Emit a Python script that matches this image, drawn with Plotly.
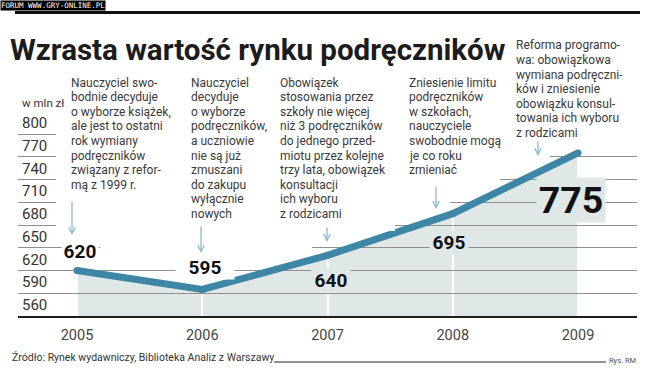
import plotly.graph_objects as go

# ---------------- data ----------------
years = [2005, 2006, 2007, 2008, 2009]
values = [620, 595, 640, 695, 775]
value_labels = ["620", "595", "640", "695", "775"]
y_ticks = [560, 590, 620, 650, 680, 710, 740, 770, 800]
y_tick_labels = ["560", "590", "620", "650", "680", "710", "740", "770", "800"]
x_tick_labels = ["2005", "2006", "2007", "2008", "2009"]

title_text = "Wzrasta wartość rynku podręczników"
unit_text = "w mln zł"
source_text = "Źródło: Rynek wydawniczy, Biblioteka Analiz z Warszawy"
credit_text = "Rys. RM"
banner_text = "FORUM WWW.GRY-ONLINE.PL"

note_2005 = ["Nauczyciel swo-", "bodnie decyduje", "o wyborze książek,", "ale jest to ostatni",
             "rok wymiany", "podręczników", "związany z refor-", "mą z 1999 r."]
note_2006 = ["Nauczyciel", "decyduje", "o wyborze", "podręczników,", "a uczniowie",
             "nie są już", "zmuszani", "do zakupu", "wyłącznie", "nowych"]
note_2007 = ["Obowiązek", "stosowania przez", "szkoły nie więcej", "niż 3 podręczników",
             "do jednego przed-", "miotu przez kolejne", "trzy lata, obowiązek",
             "konsultacji", "ich wyboru", "z rodzicami"]
note_2008 = ["Zniesienie limitu", "podręczników", "w szkołach,", "nauczyciele",
             "swobodnie mogą", "je co roku", "zmieniać"]
note_2009 = ["Reforma programo-", "wa: obowiązkowa", "wymiana podręczni-", "ków i zniesienie",
             "obowiązku konsul-", "towania ich wyboru", "z rodzicami"]

# ---------------- geometry / style ----------------
W, H = 650, 386


def fx(p):
    return p / W


def fy(p):
    return 1 - p / H


X_LEFT, X_RIGHT = 18, 637
X_FIRST, X_LAST = 77, 578
ppy = (X_LAST - X_FIRST) / (years[-1] - years[0])
x_range = [years[0] - (X_FIRST - X_LEFT) / ppy, years[-1] + (X_RIGHT - X_LAST) / ppy]
Y_BASE, Y_TOP = 316, 40
k = 22.75 / 30.0
y_range = [560, 560 + (Y_BASE - Y_TOP) / k]
x_dom = [fx(X_LEFT), fx(X_RIGHT)]
y_dom = [fy(Y_BASE), fy(Y_TOP)]

FILL = "#dfe7e7"
LINE = "#3d86a5"
ARROW = "#8bbad0"
GRID = "#8f8f8f"
TEXT = "#3a3a3a"
SANS = "Roboto, Liberation Sans, sans-serif"

fig = go.Figure()
fig.add_trace(go.Scatter(x=years, y=values, mode="lines", fill="tozeroy", fillcolor=FILL,
                         line=dict(width=0, color=FILL), xaxis="x", yaxis="y",
                         hoverinfo="skip", showlegend=False))
fig.add_trace(go.Scatter(x=years, y=values, mode="lines+markers",
                         line=dict(width=7, color=LINE), marker=dict(size=7, color=LINE),
                         xaxis="x2", yaxis="y2", hoverinfo="skip", showlegend=False))

annotations = []
shapes = []

# masks that hide the grid behind the note blocks
masks = [(56, 70, 280, 243), (100, 243, 312, 253), (280, 70, 395, 231),
         (395, 70, 450, 210), (450, 70, 500, 185), (500, 70, 550, 161),
         (505, 30, 642, 146)]
for x0, y0, x1, y1 in masks:
    shapes.append(dict(type="rect", xref="paper", yref="paper", x0=fx(x0), x1=fx(x1),
                       y0=fy(y1), y1=fy(y0), fillcolor="white", line=dict(width=0),
                       layer="above"))

# top rule and source rule
shapes.append(dict(type="line", xref="paper", yref="paper", x0=fx(15), x1=fx(640),
                   y0=fy(12.5), y1=fy(12.5), line=dict(color="#111111", width=3)))
shapes.append(dict(type="line", xref="paper", yref="paper", x0=fx(274), x1=fx(606),
                   y0=fy(362), y1=fy(362), line=dict(color="#222222", width=1)))

# banner
annotations.append(dict(x=0, y=1, xref="paper", yref="paper", xanchor="left", yanchor="top",
                        text=banner_text, showarrow=False, bgcolor="#000000", borderpad=0,
                        font=dict(family="DejaVu Sans Mono", size=7.5, color="white")))
# title
annotations.append(dict(x=fx(8), y=fy(50), xref="paper", yref="paper", xanchor="left",
                        yanchor="middle", text=title_text, showarrow=False,
                        font=dict(family=SANS, size=29.5, color="#1c1c1c", weight="bold")))
# unit
annotations.append(dict(x=fx(20), y=fy(103), xref="paper", yref="paper", xanchor="left",
                        yanchor="middle", text=unit_text, showarrow=False,
                        font=dict(family=SANS, size=11.5, color="#333333")))
# y tick labels
for v, t in zip(y_ticks, y_tick_labels):
    annotations.append(dict(x=fx(20), y=v, xref="paper", yref="y2", xanchor="left",
                            yanchor="middle", yshift=11, text=t, showarrow=False,
                            font=dict(family=SANS, size=15, color="#333333")))

# note blocks
blocks = [(note_2005, 70, 82.5), (note_2006, 190, 82.5), (note_2007, 279, 82.5),
          (note_2008, 408, 82.5), (note_2009, 515, 45.5)]
for lines, left, top in blocks:
    for i, ln in enumerate(lines):
        annotations.append(dict(x=fx(left), y=fy(top + i * 14.6), xref="paper", yref="paper",
                                xanchor="left", yanchor="middle", text=ln, showarrow=False,
                                borderpad=0,
                                font=dict(family=SANS, size=12, color=TEXT)))

# arrows
arrows = [(72, 235, 35), (201, 253, 28), (327, 242, 16), (436, 209, 24), (538, 156, 16)]
for ax_x, tip_y, ln in arrows:
    annotations.append(dict(x=fx(ax_x), y=fy(tip_y), xref="paper", yref="paper", text="",
                            showarrow=True, ax=0, ay=-ln, arrowhead=5, arrowsize=1,
                            arrowwidth=1.3, arrowcolor=ARROW, standoff=0))

# value labels
shifts = [(3, 19), (3, 22), (3, -25), (-4, -29), (-7, -47)]
bgs = ["white", "white", FILL, FILL, FILL]
widths = [36, 58, 38, 38, 68]
for i, (yr, v, lab) in enumerate(zip(years, values, value_labels)):
    big = i == len(years) - 1
    annotations.append(dict(x=yr, y=v, xref="x2", yref="y2", xshift=shifts[i][0],
                            yshift=shifts[i][1], text=lab, showarrow=False,
                            bgcolor=bgs[i], width=widths[i], borderpad=0,
                            font=dict(family=SANS, size=37.5 if big else 19,
                                      color="#111111", weight="bold")))

# source
annotations.append(dict(x=fx(10), y=fy(357), xref="paper", yref="paper", xanchor="left",
                        yanchor="middle", text=source_text, showarrow=False,
                        font=dict(family=SANS, size=10.5, color="#333333")))
annotations.append(dict(x=fx(607), y=fy(360), xref="paper", yref="paper", xanchor="left",
                        yanchor="middle", text=credit_text, showarrow=False,
                        font=dict(family=SANS, size=7.5, color="#555555")))

fig.update_layout(
    width=W, height=H, margin=dict(l=0, r=0, t=0, b=0),
    paper_bgcolor="white", plot_bgcolor="rgba(0,0,0,0)", showlegend=False,
    xaxis=dict(domain=x_dom, range=x_range, anchor="y", visible=False),
    yaxis=dict(domain=y_dom, range=y_range, anchor="x", visible=False),
    xaxis2=dict(domain=x_dom, range=x_range, anchor="y2", tickmode="array", tickvals=years,
                ticktext=x_tick_labels, showgrid=True, gridcolor="white", gridwidth=2,
                showline=True, linecolor="#1e1e1e", linewidth=2, ticks="", zeroline=False,
                ticklabelstandoff=5,
                tickfont=dict(family=SANS, size=14.5, color="#444444")),
    yaxis2=dict(domain=y_dom, range=y_range, anchor="x2", tickmode="array",
                tickvals=y_ticks[1:], showgrid=True, gridcolor=GRID, gridwidth=1,
                showticklabels=False, zeroline=False, showline=False, ticks=""),
    annotations=annotations, shapes=shapes,
)

fig.write_html("out.html", config={"displayModeBar": False},
               post_script="document.body.style.margin='0';")
